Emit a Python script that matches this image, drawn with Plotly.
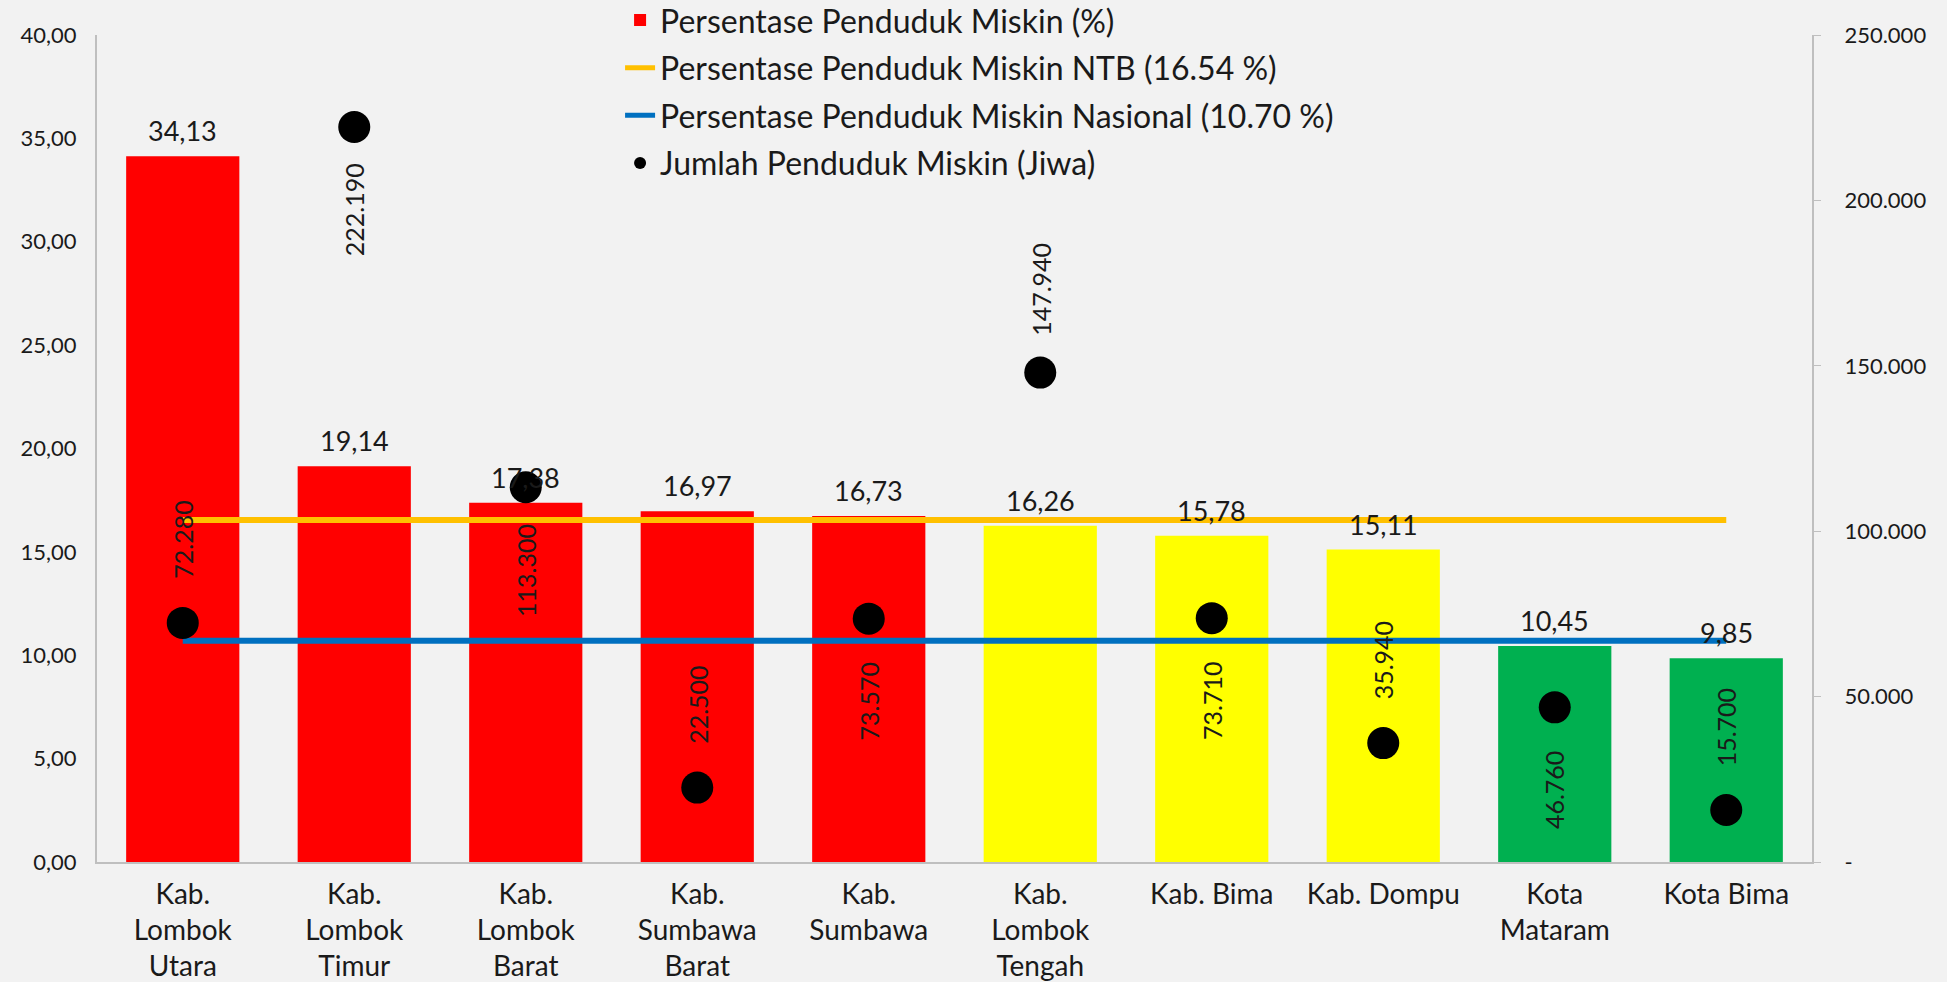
import plotly.graph_objects as go

categories = ["Kab.<br>Lombok<br>Utara", "Kab.<br>Lombok<br>Timur", "Kab.<br>Lombok<br>Barat",
              "Kab.<br>Sumbawa<br>Barat", "Kab.<br>Sumbawa", "Kab.<br>Lombok<br>Tengah",
              "Kab. Bima", "Kab. Dompu", "Kota<br>Mataram", "Kota Bima"]
persen = [34.13, 19.14, 17.38, 16.97, 16.73, 16.26, 15.78, 15.11, 10.45, 9.85]
bar_colors = ["#FF0000"] * 5 + ["#FFFF00"] * 3 + ["#00B050"] * 2
ntb = [16.54] * 10
nasional = [10.70] * 10
jumlah = [72280, 222190, 113300, 22500, 73570, 147940, 73710, 35940, 46760, 15700]
label_side = ["above", "below", "below", "above", "below", "above", "below", "above", "below", "above"]

left_ticks = [0, 5, 10, 15, 20, 25, 30, 35, 40]
left_text = ["0,00", "5,00", "10,00", "15,00", "20,00", "25,00", "30,00", "35,00", "40,00"]
right_ticks = [0, 50000, 100000, 150000, 200000, 250000]
right_text = ["-", "50.000", "100.000", "150.000", "200.000", "250.000"]

FONT = "Lato"
TXT = "#1a1a1a"
fig = go.Figure()
fig.add_trace(go.Bar(
    x=categories, y=persen, marker=dict(color=bar_colors, line=dict(width=0)),
    name="Persentase Penduduk Miskin (%)", legendgroup="a",
))
fig.add_trace(go.Scatter(
    x=categories, y=ntb, mode="lines", line=dict(color="#FFC000", width=6),
    name="Persentase Penduduk Miskin NTB (16.54 %)", legendgroup="b",
))
fig.add_trace(go.Scatter(
    x=categories, y=nasional, mode="lines", line=dict(color="#0070C0", width=6),
    name="Persentase Penduduk Miskin Nasional (10.70 %)", legendgroup="c",
))
fig.add_trace(go.Scatter(
    x=categories, y=jumlah, mode="markers", yaxis="y2",
    marker=dict(color="black", size=32),
    name="Jumlah Penduduk Miskin (Jiwa)", legendgroup="d",
))

for c, v in zip(categories, persen):
    fig.add_annotation(
        x=c, y=v, xref="x", yref="y", text=f"{v:.2f}".replace(".", ","),
        showarrow=False, yanchor="bottom", yshift=7,
        font=dict(size=27, color=TXT, family=FONT),
    )

for c, v, s in zip(categories, jumlah, label_side):
    fig.add_annotation(
        x=c, y=v, xref="x", yref="y2", text=f"{v:,}".replace(",", "."),
        textangle=-90, showarrow=False, yshift=83 if s == "above" else -83,
        font=dict(size=25, color=TXT, family=FONT),
    )

fig.update_layout(
    width=1947, height=982,
    paper_bgcolor="#F2F2F2", plot_bgcolor="#F2F2F2",
    margin=dict(l=97, r=135, t=35, b=120, autoexpand=False),
    font=dict(family=FONT, size=22, color=TXT),
    bargap=0.34, showlegend=True,
    legend=dict(x=0.305, y=1.051, xanchor="left", yanchor="top",
                bgcolor="rgba(0,0,0,0)", font=dict(size=32, family=FONT, color=TXT),
                tracegroupgap=3, itemsizing="constant", traceorder="grouped"),
    xaxis=dict(range=[-0.5, 9.5], showline=True, linecolor="#BFBFBF", linewidth=2, showgrid=False,
               ticks="", tickfont=dict(size=28, family=FONT, color=TXT), ticklabelstandoff=6),
    yaxis=dict(range=[0, 40], tickvals=left_ticks, ticktext=left_text, showgrid=False,
               showline=True, linecolor="#BFBFBF", linewidth=2, ticks="",
               tickfont=dict(size=22, family=FONT, color=TXT), zeroline=False, ticklabelstandoff=14),
    yaxis2=dict(range=[0, 250000], tickvals=right_ticks, ticktext=right_text, overlaying="y",
                side="right", showgrid=False, showline=True, linecolor="#BFBFBF", linewidth=2,
                ticks="outside", ticklen=7, tickcolor="#BFBFBF",
                tickfont=dict(size=22, family=FONT, color=TXT),
                zeroline=False, ticklabelstandoff=19),
)
fig.write_html("out.html")
